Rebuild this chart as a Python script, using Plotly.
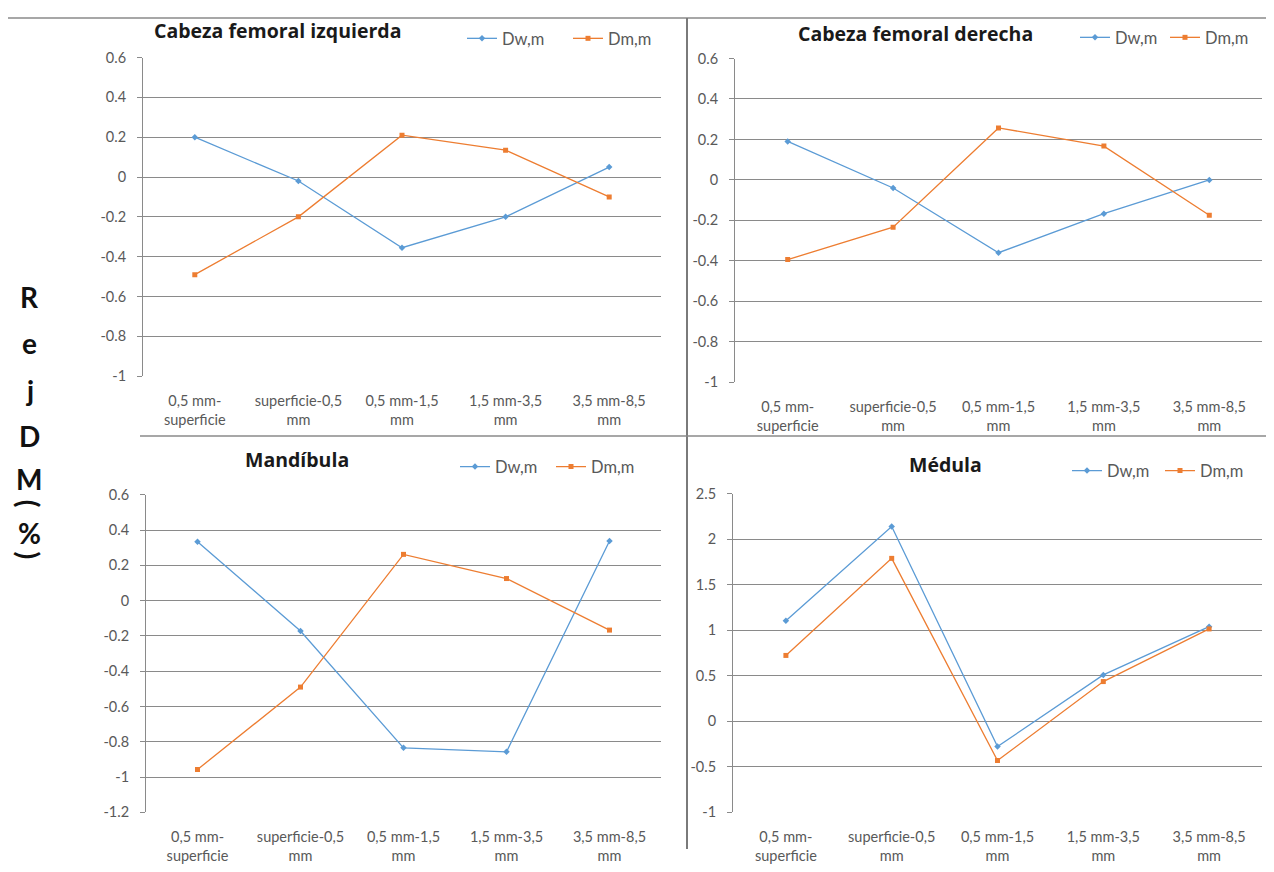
import plotly.graph_objects as go

# page has an 8px body margin; figure sized so the page fits the window exactly
OFF = 8
W, H = 1274 - 2 * OFF, 872 - 2 * OFF
# measured vertical mapping of the page photo: out = VOFF + VSC * figure_px
VOFF, VSC = 16.3, 0.976


def fx(x):
    return (x - OFF) / W


def fy(y):
    return 1 - max(1.0, (y - VOFF) / VSC) / H


categories = ["0,5 mm-<br>superficie", "superficie-0,5<br>mm", "0,5 mm-1,5<br>mm",
              "1,5 mm-3,5<br>mm", "3,5 mm-8,5<br>mm"]

titles = ["Cabeza femoral izquierda", "Cabeza femoral derecha", "Mandíbula", "Médula"]

# Panel values
izq_dw = [0.20, -0.02, -0.355, -0.20, 0.05]
izq_dm = [-0.49, -0.20, 0.21, 0.135, -0.10]
der_dw = [0.19, -0.04, -0.36, -0.167, 0.00]
der_dm = [-0.394, -0.234, 0.257, 0.167, -0.175]
man_dw = [0.333, -0.172, -0.834, -0.857, 0.338]
man_dm = [-0.957, -0.49, 0.262, 0.125, -0.167]
med_dw = [1.105, 2.14, -0.277, 0.51, 1.04]
med_dm = [0.724, 1.79, -0.43, 0.437, 1.015]

# Tick values / labels
ticks_fem = [0.6, 0.4, 0.2, 0, -0.2, -0.4, -0.6, -0.8, -1]
ticks_fem_text = ["0.6", "0.4", "0.2", "0", "-0.2", "-0.4", "-0.6", "-0.8", "-1"]
ticks_man = [0.6, 0.4, 0.2, 0, -0.2, -0.4, -0.6, -0.8, -1, -1.2]
ticks_man_text = ["0.6", "0.4", "0.2", "0", "-0.2", "-0.4", "-0.6", "-0.8", "-1", "-1.2"]
ticks_med = [2.5, 2, 1.5, 1, 0.5, 0, -0.5, -1]
ticks_med_text = ["2.5", "2", "1.5", "1", "0.5", "0", "-0.5", "-1"]

ylabel_chars = ["R", "e", "j", "D", "M", "(", "%", ")"]

BLUE = "#5B9BD5"
ORANGE = "#ED7D31"
GRID = "#8A8A8A"
TXT = "#595959"
FONT = "Lato"

# panel geometry in reference pixels: x0, x1, ytop, ybottom
panels = [
    dict(x=(143, 661), y=(57, 377), dw=izq_dw, dm=izq_dm, rng=(-1, 0.6),
         tv=ticks_fem, tt=ticks_fem_text, title=titles[0], tpos=(277, 30),
         leg=(462, 38), ew=61),
    dict(x=(735, 1262), y=(58, 383), dw=der_dw, dm=der_dm, rng=(-1, 0.6),
         tv=ticks_fem, tt=ticks_fem_text, title=titles[1], tpos=(915, 33),
         leg=(1075, 37), ew=45),
    dict(x=(146, 661), y=(496, 815), dw=man_dw, dm=man_dm, rng=(-1.2, 0.6),
         tv=ticks_man, tt=ticks_man_text, title=titles[2], tpos=(297, 461),
         leg=(455, 468), ew=51),
    dict(x=(733, 1262), y=(495, 815), dw=med_dw, dm=med_dm, rng=(-1, 2.5),
         tv=ticks_med, tt=ticks_med_text, title=titles[3], tpos=(945, 466),
         leg=(1067, 472), ew=48),
]

fig = go.Figure()
layout = {}
annotations = []

for i, p in enumerate(panels):
    n = "" if i == 0 else str(i + 1)
    legname = "legend" + n
    xa, ya = "x" + n, "y" + n
    fig.add_trace(go.Scatter(x=categories, y=p["dw"], name="Dw,m", mode="lines+markers",
                             line=dict(color=BLUE, width=1.3),
                             marker=dict(symbol="diamond", size=5, color=BLUE),
                             xaxis=xa, yaxis=ya, legend=legname))
    fig.add_trace(go.Scatter(x=categories, y=p["dm"], name="Dm,m", mode="lines+markers",
                             line=dict(color=ORANGE, width=1.3),
                             marker=dict(symbol="square", size=5, color=ORANGE),
                             xaxis=xa, yaxis=ya, legend=legname))
    layout["xaxis" + n] = dict(
        domain=[fx(p["x"][0]), fx(p["x"][1])], anchor=ya, type="category",
        range=[-0.5, 4.5], showgrid=False, showline=False, zeroline=False,
        ticks="", ticklabelstandoff=14,
        tickfont=dict(family=FONT, size=14.5, color=TXT), fixedrange=True)
    layout["yaxis" + n] = dict(
        domain=[fy(p["y"][1]), fy(p["y"][0])], anchor=xa,
        range=list(p["rng"]), tickvals=p["tv"], ticktext=p["tt"],
        showgrid=True, gridcolor=GRID, gridwidth=1, zeroline=False,
        showline=True, linecolor=GRID, linewidth=1, ticks="outside", ticklen=5,
        tickcolor=GRID, ticklabelstandoff=8,
        tickfont=dict(family=FONT, size=14.5, color=TXT), fixedrange=True)
    layout[legname] = dict(
        orientation="h", x=fx(p["leg"][0]), y=fy(p["leg"][1]),
        xanchor="left", yanchor="middle", bgcolor="rgba(0,0,0,0)",
        font=dict(family=FONT, size=16.5, color=TXT), entrywidth=p["ew"],
        entrywidthmode="pixels", itemwidth=30, tracegroupgap=0)
    annotations.append(dict(
        text="<b>" + p["title"] + "</b>", x=fx(p["tpos"][0]), y=fy(p["tpos"][1]),
        xref="paper", yref="paper", showarrow=False, xanchor="center", yanchor="middle",
        font=dict(family="Open Sans", size=19.5, color="#1a1a1a")))

# stacked vertical axis label
ypos = [297, 344, 391, 437, 480, 505, 534, 557]
for ch, yy in zip(ylabel_chars, ypos):
    ang = 90 if ch in "()" else 0
    annotations.append(dict(
        text="<b>" + ch + "</b>", x=fx(29), y=fy(yy), xref="paper", yref="paper",
        showarrow=False, xanchor="center", yanchor="middle", textangle=ang,
        font=dict(family=FONT, size=28, color="#111111")))

shapes = [
    dict(type="line", xref="paper", yref="paper", x0=0, x1=1, y0=fy(7), y1=fy(7),
         line=dict(color="#8A8A8A", width=1.5)),
    dict(type="line", xref="paper", yref="paper", x0=fx(687), x1=fx(687), y0=0, y1=fy(7),
         line=dict(color="#7A7A7A", width=2)),
    dict(type="line", xref="paper", yref="paper", x0=fx(140), x1=1, y0=fy(437), y1=fy(437),
         line=dict(color="#8A8A8A", width=1.5)),
]

fig.update_layout(
    width=W, height=H, margin=dict(l=0, r=0, t=0, b=0),
    paper_bgcolor="white", plot_bgcolor="white",
    annotations=annotations, shapes=shapes, **layout)

fig.write_html("out.html")
